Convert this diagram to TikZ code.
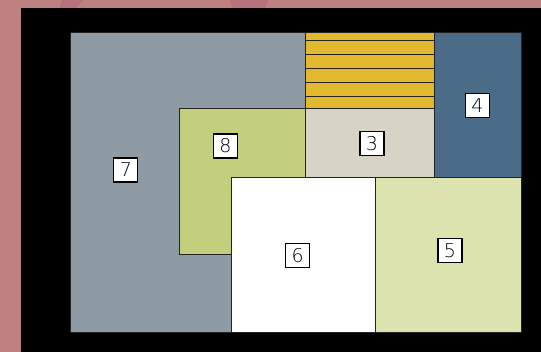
\documentclass[tikz,border=0pt]{standalone}
\usepackage{fontspec}
\newfontfamily\labelfont{DejaVu Sans ExtraLight}
\definecolor{bgpink}{HTML}{BF8080}
\definecolor{bgstripe}{HTML}{B6727A}
\definecolor{room7}{HTML}{8E9AA4}
\definecolor{stairs}{HTML}{E2B82E}
\definecolor{room4}{HTML}{4B6C86}
\definecolor{room3}{HTML}{D7D4C6}
\definecolor{room8}{HTML}{C4CF7D}
\definecolor{room5}{HTML}{DCE3AF}
\definecolor{edge}{HTML}{222222}
\tikzset{
  room/.style={draw=edge, line width=1pt},
  tag/.style={draw=black, line width=1.3pt, fill=white, minimum width=24pt, minimum height=24pt, inner sep=0pt, font=\labelfont\fontsize{19}{19}\selectfont},
}
\begin{document}
\begin{tikzpicture}[x=1pt,y=-1pt]
\useasboundingbox (0,0) rectangle (541,352);
\fill[bgpink] (0,0) rectangle (541,352);
\fill[bgstripe] (62,0) -- (83,0) -- (77,8) -- (60,8) -- cycle;
\fill[bgstripe] (230,0) -- (268,0) -- (265,8) -- (232,8) -- cycle;
\fill[black] (21,8) rectangle (541,352);
% rooms
\filldraw[room, fill=room7] (70,33) rectangle (305,333);
\filldraw[room, fill=room8] (179,109) rectangle (305,255);
\filldraw[room, fill=stairs] (305,33) rectangle (434,109);
\foreach \yy in {41,55,69,83,97} \draw[room] (305,\yy) -- (434,\yy);
\filldraw[room, fill=room3] (305,109) rectangle (434,178);
\filldraw[room, fill=room4] (434,33) rectangle (521,178);
\filldraw[room, fill=white] (231,178) rectangle (375,333);
\filldraw[room, fill=room5] (375,178) rectangle (521,333);
% labels
\node[tag] (l7) at (125.8,170) {7};
\node[tag] (l8) at (225.5,146) {8};
\node[tag] (l3) at (372,143.7) {3};
\node[tag] (l4) at (477.3,105.5) {4};
\node[tag] (l6) at (297.7,255.5) {6};
\node[tag] (l5) at (450,250.5) {5};
\end{tikzpicture}
\end{document}
